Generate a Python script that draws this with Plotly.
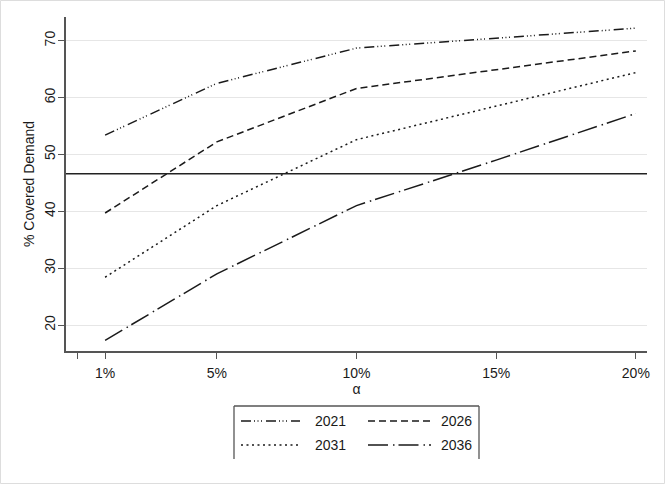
import plotly.graph_objects as go

# ---- data ----
alpha = [1, 5, 10, 15, 20]
years = ["2021", "2026", "2031", "2036"]
cov_2021 = [53.4, 62.5, 68.7, 70.5, 72.2]
cov_2026 = [39.7, 52.2, 61.6, 64.9, 68.2]
cov_2031 = [28.4, 41.0, 52.6, 58.5, 64.4]
cov_2036 = [17.3, 29.0, 41.0, 49.0, 57.2]
reference_level = 46.6
x_tickvals = [0, 1, 5, 10, 15, 20]
x_ticktext = ["", "1%", "5%", "10%", "15%", "20%"]
y_tickvals = [20, 30, 40, 50, 60, 70]

series = [cov_2021, cov_2026, cov_2031, cov_2036]
dashes = ["10px,3px,1px,2.5px,1px,2.5px,1px,4px", "7px,4px", "2px,3.5px", "20px,5px,1.5px,4px"]

W, H = 665, 484
ML, MR, MT, MB = 66, 18, 17, 133
PW, PH = W - ML - MR, H - MT - MB

def px(x):
    return (x - ML) / PW

def py(y):
    return (H - MB - y) / PH

FONT = "Liberation Sans, Arial, sans-serif"
FS = 14

fig = go.Figure()
for yr, vals, d in zip(years, series, dashes):
    fig.add_trace(go.Scatter(x=alpha, y=vals, mode="lines", name=yr,
                             line=dict(color="#1a1a1a", width=1.5, dash=d),
                             showlegend=False))

fig.add_hline(y=reference_level, line=dict(color="#222222", width=1.5))

shapes = []
annotations = []
# legend box (four edges)
bx0, bx1, by0, by1 = px(234), px(479), py(459), py(406)
for (a, b, c, d_) in [(bx0, bx1, by0, by0), (bx0, bx1, by1, by1), (bx0, bx0, by0, by1), (bx1, bx1, by0, by1)]:
    shapes.append(dict(type="line", xref="paper", yref="paper", x0=a, x1=b, y0=c, y1=d_,
                       line=dict(color="#555555", width=1.3)))
leg_pos = [(241, 300, 314, 421), (368, 431, 440, 421), (241, 300, 314, 445), (368, 431, 440, 445)]
for (x0, x1, xt, yy), yr, d in zip(leg_pos, years, dashes):
    shapes.append(dict(type="line", xref="paper", yref="paper",
                       x0=px(x0), x1=px(x1), y0=py(yy), y1=py(yy),
                       line=dict(color="#1a1a1a", width=1.5, dash=d)))
    annotations.append(dict(text=yr, xref="paper", yref="paper", x=px(xt - 1), y=py(yy),
                            xanchor="left", yanchor="middle", showarrow=False,
                            font=dict(size=FS, color="#1a1a1a", family=FONT)))
# outer border
shapes.append(dict(type="rect", xref="paper", yref="paper",
                   x0=px(0.5), x1=px(664.5), y0=py(483.5), y1=py(0.5),
                   line=dict(color="#dddddd", width=1), layer="below"))

fig.update_layout(
    width=W, height=H,
    margin=dict(l=ML, r=MR, t=MT, b=MB),
    paper_bgcolor="white", plot_bgcolor="white",
    font=dict(family=FONT, size=FS, color="#1a1a1a"),
    shapes=shapes, annotations=annotations,
    showlegend=False,
    xaxis=dict(range=[-0.4, 20.4], tickvals=x_tickvals, ticktext=x_ticktext,
               showgrid=False, zeroline=False, showline=True, linecolor="#555555", linewidth=1.5,
               ticks="outside", ticklen=6, tickcolor="#555555", tickwidth=1.2,
               ticklabelstandoff=2,
               title=dict(text="α", standoff=0, font=dict(size=FS))),
    yaxis=dict(range=[15.43, 74.17], tickvals=y_tickvals, tickangle=-90,
               showgrid=True, gridcolor="#e6e6e6", gridwidth=1,
               zeroline=False, showline=True, linecolor="#555555", linewidth=1.5,
               ticks="outside", ticklen=6, tickcolor="#555555", tickwidth=1.2,
               ticklabelstandoff=-2,
               title=dict(text="% Covered Demand", standoff=4, font=dict(size=FS))),
)

fig.write_html("out.html")
